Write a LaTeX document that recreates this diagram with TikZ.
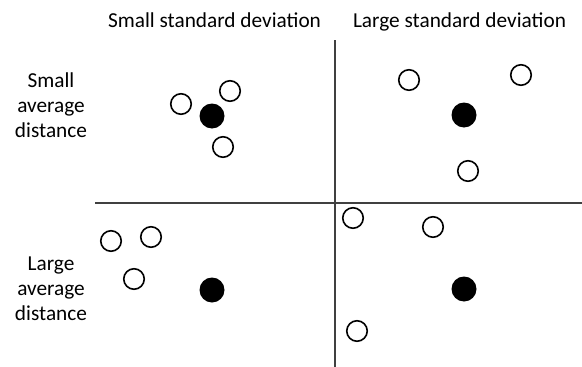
\documentclass[tikz,border=0pt]{standalone}
\usepackage{fontspec}
\setmainfont{Carlito}
\usetikzlibrary{positioning}

\begin{document}
\begin{tikzpicture}[
    x=1pt, y=-1pt,
    font=\fontsize{21.3}{24.8}\selectfont,
    head/.style={anchor=base, inner sep=0pt},
    rowlabel/.style={align=center, inner sep=0pt},
    axis/.style={draw=black!75, line width=1.2pt},
    pt/.style={circle, draw=black, line width=1.6pt, fill=white,
        minimum size=20.5pt, inner sep=0pt},
    mean/.style={circle, fill=black, minimum size=25pt, inner sep=0pt},
]

% frame of the image
\useasboundingbox (0,0) rectangle (582,367);

% column and row headers
\node[head] (hsmall) at (214.5,27) {Small standard deviation};
\node[head] (hlarge) at (459.5,27) {Large standard deviation};
\node[rowlabel] (rsmall) at (51,105) {Small\\average\\distance};
\node[rowlabel] (rlarge) at (51,289) {Large\\average\\distance};

% dividing lines
\coordinate (vtop) at (335,40);
\coordinate (vbot) at (335,367);
\coordinate (hleft) at (95,203);
\coordinate (hright) at (582,203);
\draw[axis] (vtop) -- (vbot);
\draw[axis] (hleft) -- (hright);

% top left: small sd, small distance
\foreach \n/\x/\y in {a1/181/104, a2/230/91, a3/223/147}
    \node[pt] (\n) at (\x,\y) {};
\node[mean] (ma) at (212,116) {};

% top right: large sd, small distance
\foreach \n/\x/\y in {b1/409/80, b2/521/75, b3/468/171}
    \node[pt] (\n) at (\x,\y) {};
\node[mean] (mb) at (464,115) {};

% bottom left: small sd, large distance
\foreach \n/\x/\y in {c1/111/241, c2/151/237, c3/134/279}
    \node[pt] (\n) at (\x,\y) {};
\node[mean] (mc) at (212,290) {};

% bottom right: large sd, large distance
\foreach \n/\x/\y in {d1/353/218, d2/433/227, d3/357/331}
    \node[pt] (\n) at (\x,\y) {};
\node[mean] (md) at (464,289) {};

\end{tikzpicture}
\end{document}
